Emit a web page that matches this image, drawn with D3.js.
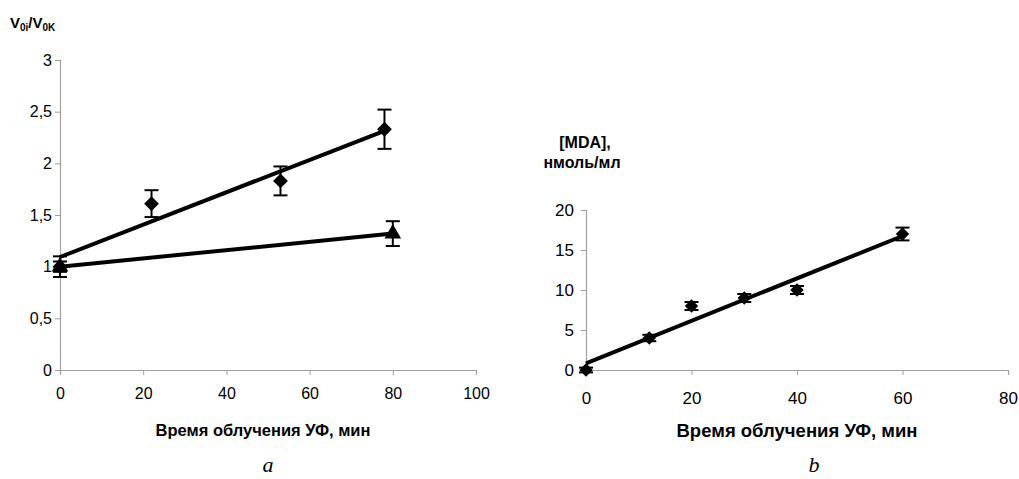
<!DOCTYPE html>
<html>
<head>
<meta charset="utf-8">
<script src="https://cdn.jsdelivr.net/npm/d3@7"></script>
<style>
  body { margin: 0; background: #fff; }
  svg { display: block; font-family: "Liberation Sans", Arial, sans-serif; }
  .axis path, .axis line { stroke: #a0a0a0; }
  .axis text { fill: #000; }
</style>
</head>
<body>
<svg id="chart" width="1019" height="479"></svg>
<script>
// panel a: V0i/V0K vs UV time
const aXTicks = [0, 20, 40, 60, 80, 100];
const aYTicks = [0, 0.5, 1, 1.5, 2, 2.5, 3];
const aDiamondX = [0, 22, 53, 78];
const aDiamondY = [1.0, 1.61, 1.83, 2.33];
const aDiamondErr = [0.1, 0.13, 0.14, 0.19];
const aTriangleX = [0, 80];
const aTriangleY = [1.0, 1.32];
const aTriangleErr = [0.05, 0.12];

// panel b: MDA vs UV time
const bXTicks = [0, 20, 40, 60, 80];
const bYTicks = [0, 5, 10, 15, 20];
const bX = [0, 12, 20, 30, 40, 60];
const bY = [0, 4, 8, 9, 10, 17];
const bErr = [0.3, 0.4, 0.5, 0.5, 0.5, 0.8];

const svg = d3.select('#chart');
const commaFmt = d => String(d).replace('.', ',');

// least squares line through a series
function fit(xs, ys) {
    const mx = d3.mean(xs), my = d3.mean(ys);
    let sxy = 0, sxx = 0;
    xs.forEach((x, i) => { sxy += (x - mx) * (ys[i] - my); sxx += (x - mx) * (x - mx); });
    const k = sxy / sxx;
    return { k: k, b: my - k * mx };
}

function drawPanel(opt) {
    const g = svg.append('g');
    const x = d3.scaleLinear().domain(opt.xDomain).range(opt.xRange);
    const y = d3.scaleLinear().domain(opt.yDomain).range(opt.yRange);

    g.append('g')
        .attr('class', 'axis')
        .attr('transform', `translate(0,${opt.yRange[0]})`)
        .call(d3.axisBottom(x).tickValues(opt.xTicks).tickSize(5).tickPadding(opt.xPad).tickFormat(commaFmt))
        .call(s => s.selectAll('text').style('font-size', opt.fontSize + 'px'));

    g.append('g')
        .attr('class', 'axis')
        .attr('transform', `translate(${opt.xRange[0]},0)`)
        .call(d3.axisLeft(y).tickValues(opt.yTicks).tickSize(5).tickPadding(opt.yPad).tickFormat(commaFmt))
        .call(s => s.selectAll('text').style('font-size', opt.fontSize + 'px'));

    g.selectAll('.domain').attr('stroke-width', 1.2);

    opt.series.forEach(se => {
        const f = fit(se.xs, se.ys);
        const x0 = d3.min(se.xs), x1 = d3.max(se.xs);
        g.append('line')
            .attr('x1', x(x0)).attr('y1', y(f.b + f.k * x0))
            .attr('x2', x(x1)).attr('y2', y(f.b + f.k * x1))
            .attr('stroke', '#000')
            .attr('stroke-width', 4);

        se.xs.forEach((xv, i) => {
            const cx = x(xv), yv = se.ys[i], e = se.err[i];
            const eb = g.append('g').attr('stroke', '#000').attr('stroke-width', 2);
            eb.append('line').attr('x1', cx).attr('x2', cx).attr('y1', y(yv - e)).attr('y2', y(yv + e));
            [yv - e, yv + e].forEach(v => {
                eb.append('line').attr('x1', cx - 7).attr('x2', cx + 7).attr('y1', y(v)).attr('y2', y(v));
            });
            g.append('path')
                .attr('d', d3.symbol().type(se.symbol).size(se.size)())
                .attr('transform', `translate(${cx},${y(yv)})` + (se.symbol === d3.symbolSquare ? ' rotate(45)' : ''))
                .attr('fill', '#000');
        });
    });
    return g;
}

drawPanel({
    xDomain: [0, 100], xRange: [60, 476],
    yDomain: [0, 3], yRange: [370, 60],
    xTicks: aXTicks, yTicks: aYTicks, fontSize: 16, xPad: 13, yPad: 3,
    series: [
        { xs: aDiamondX, ys: aDiamondY, err: aDiamondErr, symbol: d3.symbolSquare, size: 110 },
        { xs: aTriangleX, ys: aTriangleY, err: aTriangleErr, symbol: d3.symbolTriangle, size: 120 }
    ]
});

drawPanel({
    xDomain: [0, 80], xRange: [586, 1008],
    yDomain: [0, 20], yRange: [370, 210],
    xTicks: bXTicks, yTicks: bYTicks, fontSize: 17, xPad: 17, yPad: 7,
    series: [
        { xs: bX, ys: bY, err: bErr, symbol: d3.symbolSquare, size: 90 }
    ]
});

// titles and captions
const yLab = svg.append('text')
    .attr('x', 10).attr('y', 28)
    .style('font-weight', 'bold').style('font-size', '15px');
yLab.append('tspan').text('V');
yLab.append('tspan').attr('dy', 3).style('font-size', '10px').text('0i');
yLab.append('tspan').attr('dy', -3).text('/V');
yLab.append('tspan').attr('dy', 3).style('font-size', '10px').text('0K');

svg.append('text')
    .attr('x', 263).attr('y', 436)
    .attr('text-anchor', 'middle')
    .style('font-weight', 'bold').style('font-size', '16.5px')
    .text('Время облучения УФ, мин');

svg.append('text')
    .attr('x', 797).attr('y', 437)
    .attr('text-anchor', 'middle')
    .style('font-weight', 'bold').style('font-size', '18.5px')
    .text('Время облучения УФ, мин');

svg.append('text')
    .attr('x', 585).attr('y', 148)
    .attr('text-anchor', 'middle')
    .style('font-weight', 'bold').style('font-size', '16px')
    .text('[MDA],');

svg.append('text')
    .attr('x', 582).attr('y', 168)
    .attr('text-anchor', 'middle')
    .style('font-weight', 'bold').style('font-size', '16px')
    .text('нмоль/мл');

svg.append('text')
    .attr('x', 268).attr('y', 472)
    .attr('text-anchor', 'middle')
    .style('font-family', '"Liberation Serif", serif')
    .style('font-style', 'italic').style('font-size', '22px')
    .text('a');

svg.append('text')
    .attr('x', 814).attr('y', 472)
    .attr('text-anchor', 'middle')
    .style('font-family', '"Liberation Serif", serif')
    .style('font-style', 'italic').style('font-size', '22px')
    .text('b');
</script>
</body>
</html>
